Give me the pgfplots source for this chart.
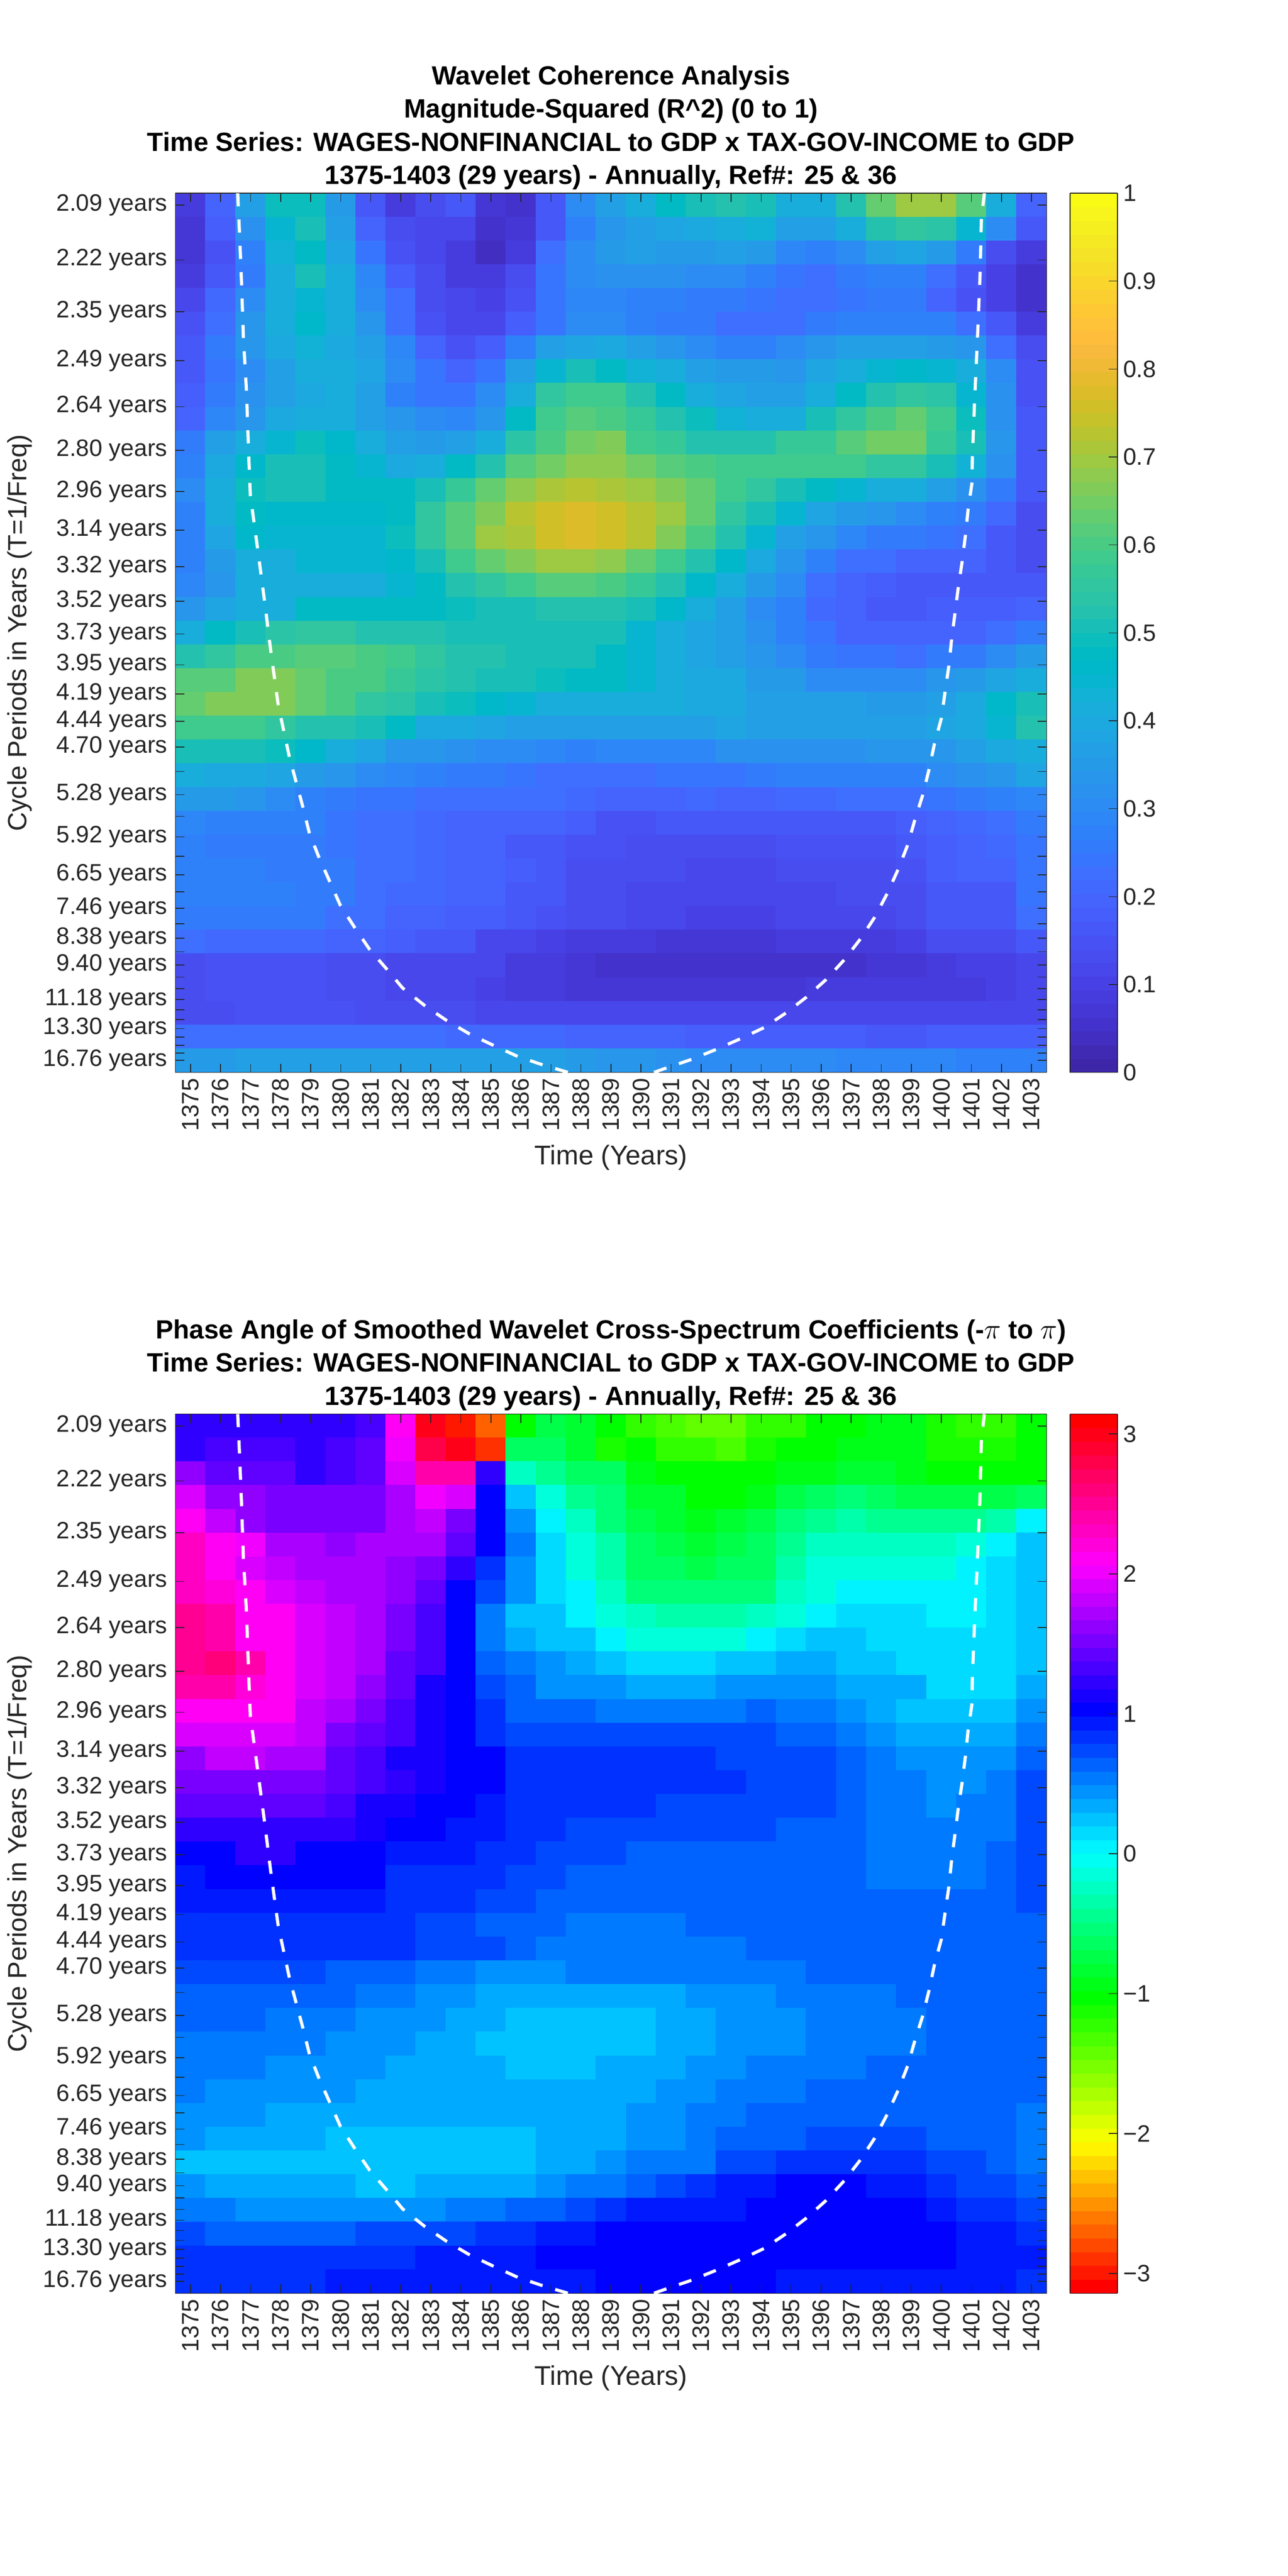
\documentclass[border=0pt]{standalone}
\usepackage{fontspec}
\setmainfont{Liberation Sans}
\usepackage{pgfplots}
\pgfplotsset{compat=1.18}
\definecolor{axgray}{rgb}{0.15,0.15,0.15}

\pgfplotsset{
  colormap={parula}{
    rgb=(0.2422,0.1504,0.6603) rgb=(0.2504,0.1650,0.7076) rgb=(0.2578,0.1818,0.7511) rgb=(0.2647,0.1978,0.7952)
    rgb=(0.2706,0.2147,0.8364) rgb=(0.2751,0.2342,0.8710) rgb=(0.2783,0.2559,0.8991) rgb=(0.2803,0.2782,0.9221)
    rgb=(0.2813,0.3006,0.9414) rgb=(0.2810,0.3228,0.9579) rgb=(0.2795,0.3447,0.9717) rgb=(0.2760,0.3667,0.9829)
    rgb=(0.2699,0.3892,0.9906) rgb=(0.2602,0.4123,0.9952) rgb=(0.2440,0.4358,0.9988) rgb=(0.2206,0.4603,0.9973)
    rgb=(0.1963,0.4847,0.9892) rgb=(0.1834,0.5074,0.9798) rgb=(0.1786,0.5289,0.9682) rgb=(0.1764,0.5499,0.9520)
    rgb=(0.1687,0.5703,0.9359) rgb=(0.1540,0.5902,0.9218) rgb=(0.1460,0.6091,0.9079) rgb=(0.1380,0.6276,0.8973)
    rgb=(0.1248,0.6459,0.8883) rgb=(0.1113,0.6635,0.8763) rgb=(0.0952,0.6798,0.8598) rgb=(0.0689,0.6948,0.8394)
    rgb=(0.0297,0.7082,0.8163) rgb=(0.0036,0.7203,0.7917) rgb=(0.0067,0.7312,0.7660) rgb=(0.0433,0.7411,0.7394)
    rgb=(0.0964,0.7500,0.7120) rgb=(0.1408,0.7584,0.6842) rgb=(0.1717,0.7670,0.6554) rgb=(0.1938,0.7758,0.6251)
    rgb=(0.2161,0.7843,0.5923) rgb=(0.2470,0.7918,0.5567) rgb=(0.2906,0.7973,0.5188) rgb=(0.3406,0.8008,0.4789)
    rgb=(0.3909,0.8029,0.4354) rgb=(0.4456,0.8024,0.3909) rgb=(0.5044,0.7993,0.3480) rgb=(0.5616,0.7942,0.3045)
    rgb=(0.6174,0.7876,0.2612) rgb=(0.6720,0.7793,0.2227) rgb=(0.7242,0.7698,0.1910) rgb=(0.7738,0.7598,0.1646)
    rgb=(0.8203,0.7498,0.1535) rgb=(0.8634,0.7406,0.1596) rgb=(0.9035,0.7330,0.1774) rgb=(0.9393,0.7288,0.2100)
    rgb=(0.9728,0.7298,0.2394) rgb=(0.9956,0.7434,0.2371) rgb=(0.9970,0.7659,0.2199) rgb=(0.9952,0.7861,0.2028)
    rgb=(0.9892,0.8135,0.1885) rgb=(0.9786,0.8386,0.1766) rgb=(0.9676,0.8639,0.1643) rgb=(0.9610,0.8890,0.1537)
    rgb=(0.9597,0.9135,0.1423) rgb=(0.9628,0.9373,0.1265) rgb=(0.9691,0.9606,0.1064) rgb=(0.9769,0.9839,0.0805)
  },
  colormap={hsvbase}{rgb255=(255,0,0) rgb255=(255,255,0) rgb255=(0,255,0) rgb255=(0,255,255) rgb255=(0,0,255) rgb255=(255,0,255) rgb255=(255,0,0)},
  colormap={phase}{samples of colormap=(64 of hsvbase)},
  box/.style={
    scale only axis, width=528.5pt, height=533.5pt,
    anchor=south west,
    xmin=1374.5, xmax=1403.5,
    ymin=0.05375, ymax=0.48316,
  },
  wavelet/.style={
    box,
    axis line style={axgray, line width=0.5pt},
    tick align=inside, tick pos=both,
    major tick length=5.3pt,
    every tick/.style={axgray, line width=0.5pt},
    xtick={1375,...,1403},
    xticklabel style={rotate=90, anchor=east, font=\fontsize{14.4}{16}\selectfont, text=axgray, /pgf/number format/1000 sep={}, /pgf/number format/assume math mode=true},
    ytick={.47733,.45054,.42526,.40139,.37886,.35760,.33753,.31859,.30071,.28383,.26790,.25287,.23866,.22527,.21263,.20069,.18943,.17880,.16876,.15930,.15036,.14192,.13395,.12643,.11933,.11264,.10632,.10035,.09472,.08940,.08438,.07965,.07518,.07096,.06698,.06322,.05967},
    yticklabels={{2.09 years},{2.22 years},{2.35 years},{2.49 years},{2.64 years},{2.80 years},{2.96 years},{3.14 years},{3.32 years},{3.52 years},{3.73 years},{3.95 years},{4.19 years},{4.44 years},{4.70 years},{},{5.28 years},{},{5.92 years},{},{6.65 years},{},{7.46 years},{},{8.38 years},{},{9.40 years},{},{},{11.18 years},{},{},{13.30 years},{},{},{},{16.76 years}},
    yticklabel style={font=\fontsize{14.4}{16}\selectfont, text=axgray, xshift=-1.5pt},
    xlabel={Time (Years)}, ylabel={Cycle Periods in Years (T=1/Freq)},
    xlabel style={font=\fontsize{16.4}{18}\selectfont, text=axgray, yshift=-1.5pt},
    ylabel style={font=\fontsize{16}{18}\selectfont, text=axgray},
    title style={font=\bfseries\fontsize{16}{20.2}\selectfont, align=center, yshift=-7.5pt},
    axis on top,
    colormap access=piecewise constant,
    colorbar,
  },
  wbar/.style={
    at={(1.027,1)}, anchor=north west, width=28.75pt,
    axis line style={axgray, line width=0.5pt},
    tick align=inside, ytick pos=right,
    major tick length=5.3pt,
    every tick/.style={axgray, line width=0.5pt},
    yticklabel style={font=\fontsize{14.4}{16}\selectfont, text=axgray},
  },
  coi/.style={white, line width=1.9pt, dash pattern=on 8pt off 8pt},
}

\begin{document}
\begin{tikzpicture}
\path[use as bounding box] (0,0) rectangle (781.25pt,1563pt);

\begin{axis}[wavelet, at={(106.5pt,912.25pt)},
    title={Wavelet Coherence Analysis\\Magnitude-Squared (R\^{}2) (0 to 1)\\Time Series: WAGES-NONFINANCIAL to GDP x TAX-GOV-INCOME to GDP\\1375-1403 (29 years) - Annually, Ref\#: 25 \& 36},
    colormap name=parula,
    point meta min=0, point meta max=100,
    colorbar style={wbar, ytick={0,10,...,100}, yticklabels={0,0.1,0.2,0.3,0.4,0.5,0.6,0.7,0.8,0.9,1}},
]
% coherence in hundredths, row by row from 2.09 years down, 1375..1403 in each row
\addplot[matrix plot*, mesh/cols=29, point meta=explicit] table[row sep=\\, header=false, x index=0, y index=0, meta index=0, x expr={1375+floor(mod(\coordindex+0.5,29))}, y expr={0.48316-(floor((\coordindex+0.5)/29)+0.5)*0.011606}] {
9\\20\\36\\49\\49\\35\\17\\8\\13\\16\\7\\6\\16\\30\\37\\42\\48\\50\\52\\50\\42\\42\\52\\64\\69\\69\\62\\42\\20\\
7\\18\\32\\45\\50\\36\\20\\13\\11\\11\\5\\7\\17\\27\\33\\37\\38\\40\\42\\43\\37\\37\\41\\52\\55\\54\\44\\30\\16\\
7\\15\\28\\43\\48\\38\\24\\15\\11\\8\\4\\9\\22\\31\\35\\36\\35\\35\\36\\35\\29\\27\\31\\37\\38\\35\\25\\14\\9\\
8\\16\\26\\42\\50\\41\\29\\18\\13\\9\\8\\13\\24\\30\\32\\32\\32\\31\\30\\28\\24\\22\\25\\28\\27\\23\\17\\10\\5\\
12\\21\\31\\41\\45\\41\\31\\22\\14\\11\\10\\15\\24\\29\\29\\28\\27\\26\\25\\24\\23\\22\\24\\26\\26\\20\\15\\10\\6\\
15\\22\\33\\42\\46\\41\\33\\22\\15\\12\\12\\18\\24\\30\\31\\28\\26\\25\\23\\22\\22\\26\\27\\28\\28\\27\\22\\16\\8\\
17\\25\\34\\40\\43\\40\\36\\29\\19\\15\\18\\28\\36\\39\\40\\36\\34\\30\\28\\27\\31\\34\\36\\37\\37\\35\\33\\22\\13\\
17\\24\\31\\36\\42\\42\\38\\31\\24\\20\\24\\37\\45\\51\\47\\43\\42\\36\\35\\35\\34\\38\\41\\44\\46\\45\\41\\30\\15\\
18\\26\\32\\37\\40\\41\\36\\28\\24\\24\\30\\42\\55\\58\\58\\53\\48\\42\\39\\37\\37\\41\\48\\53\\55\\54\\44\\32\\15\\
20\\29\\34\\40\\41\\41\\37\\33\\30\\29\\34\\48\\58\\62\\60\\57\\53\\49\\43\\41\\42\\50\\55\\60\\64\\58\\49\\32\\16\\
26\\36\\41\\45\\49\\46\\41\\37\\35\\37\\41\\54\\60\\65\\66\\59\\57\\53\\52\\52\\57\\57\\62\\65\\65\\57\\51\\33\\17\\
28\\40\\46\\51\\51\\48\\44\\40\\42\\47\\53\\61\\65\\68\\68\\65\\61\\60\\58\\58\\58\\58\\58\\55\\55\\51\\43\\32\\17\\
30\\42\\49\\51\\51\\47\\47\\47\\51\\57\\64\\68\\71\\72\\71\\69\\67\\63\\58\\55\\51\\48\\44\\42\\41\\37\\32\\25\\16\\
28\\42\\47\\46\\46\\46\\46\\48\\55\\61\\67\\72\\75\\78\\75\\72\\69\\64\\56\\51\\45\\38\\35\\33\\30\\28\\25\\21\\14\\
28\\39\\46\\45\\45\\45\\45\\49\\55\\62\\69\\71\\75\\78\\75\\72\\67\\60\\52\\45\\36\\33\\29\\26\\26\\24\\23\\17\\13\\
28\\35\\42\\42\\44\\44\\44\\46\\51\\58\\64\\66\\69\\70\\68\\64\\59\\52\\46\\40\\33\\28\\22\\22\\20\\20\\19\\17\\14\\
29\\33\\41\\42\\42\\42\\42\\44\\48\\52\\55\\58\\61\\61\\60\\57\\52\\46\\41\\35\\30\\23\\20\\18\\16\\16\\16\\16\\17\\
34\\38\\41\\42\\47\\47\\47\\47\\47\\49\\50\\51\\52\\52\\52\\51\\46\\41\\37\\31\\27\\21\\19\\17\\16\\18\\18\\18\\20\\
42\\47\\51\\54\\55\\55\\53\\53\\53\\51\\51\\51\\51\\50\\50\\45\\42\\38\\36\\32\\27\\24\\20\\19\\19\\19\\20\\22\\26\\
53\\56\\60\\60\\62\\62\\60\\58\\55\\53\\53\\51\\51\\50\\47\\45\\42\\38\\37\\33\\30\\26\\24\\24\\22\\25\\26\\30\\35\\
62\\62\\66\\66\\63\\60\\60\\57\\54\\52\\50\\50\\49\\48\\47\\45\\42\\40\\40\\35\\35\\31\\31\\30\\31\\33\\35\\38\\42\\
63\\66\\66\\66\\63\\60\\56\\54\\51\\49\\46\\44\\41\\41\\41\\42\\41\\40\\40\\37\\36\\36\\36\\35\\35\\36\\40\\46\\51\\
58\\58\\58\\56\\53\\53\\50\\47\\40\\40\\38\\36\\36\\36\\36\\36\\36\\36\\38\\36\\36\\36\\36\\37\\37\\38\\40\\45\\52\\
50\\50\\50\\49\\46\\41\\39\\34\\34\\32\\30\\30\\29\\28\\29\\29\\29\\29\\32\\32\\32\\32\\32\\33\\33\\34\\37\\40\\41\\
41\\40\\40\\39\\35\\33\\31\\29\\27\\26\\26\\24\\23\\22\\22\\22\\24\\24\\24\\26\\27\\28\\28\\28\\28\\31\\32\\34\\38\\
35\\35\\33\\30\\28\\26\\24\\24\\23\\22\\22\\22\\22\\21\\20\\20\\20\\21\\20\\20\\21\\21\\22\\22\\22\\24\\26\\28\\29\\
29\\28\\28\\27\\27\\24\\23\\22\\21\\20\\20\\19\\19\\18\\15\\15\\16\\16\\16\\16\\17\\17\\17\\17\\18\\20\\21\\23\\25\\
27\\26\\26\\26\\26\\24\\23\\22\\21\\20\\20\\17\\17\\15\\15\\14\\13\\13\\13\\13\\15\\15\\15\\15\\17\\18\\20\\21\\24\\
27\\27\\27\\26\\26\\25\\23\\22\\21\\20\\19\\18\\17\\14\\13\\13\\13\\12\\12\\12\\13\\13\\14\\14\\15\\18\\19\\20\\24\\
27\\27\\27\\27\\26\\25\\23\\21\\21\\19\\19\\17\\16\\14\\13\\12\\12\\11\\11\\11\\12\\12\\13\\13\\14\\16\\17\\17\\24\\
26\\26\\26\\25\\25\\23\\22\\20\\19\\18\\18\\16\\15\\13\\13\\12\\12\\10\\10\\10\\12\\12\\12\\12\\13\\16\\16\\17\\22\\
22\\21\\21\\21\\21\\20\\20\\18\\17\\16\\11\\11\\10\\9\\9\\9\\7\\7\\7\\7\\9\\9\\9\\9\\10\\13\\13\\14\\16\\
14\\15\\15\\15\\15\\14\\14\\12\\12\\11\\11\\9\\9\\7\\6\\5\\5\\5\\5\\5\\6\\6\\6\\7\\7\\9\\10\\10\\11\\
13\\15\\15\\15\\15\\14\\14\\12\\12\\11\\10\\9\\8\\7\\7\\7\\7\\7\\7\\7\\7\\8\\8\\8\\8\\9\\9\\10\\11\\
14\\14\\15\\15\\15\\15\\14\\14\\13\\13\\12\\12\\11\\11\\11\\11\\11\\11\\11\\11\\11\\11\\11\\11\\11\\11\\11\\11\\12\\
22\\22\\22\\22\\22\\23\\23\\22\\22\\21\\21\\21\\21\\20\\19\\19\\19\\18\\18\\18\\18\\18\\18\\17\\17\\18\\18\\18\\18\\
35\\35\\36\\36\\36\\36\\36\\37\\37\\36\\36\\36\\36\\35\\33\\33\\32\\31\\31\\31\\30\\30\\29\\29\\29\\29\\28\\28\\28\\
};
\end{axis}

% cone of influence, year against frequency, in its own axis over the cells
\begin{axis}[box, hide axis, at={(106.5pt,912.25pt)}]
\addplot[coi] coordinates {(1376.57,.4832)(1376.63,.4640)(1376.70,.4385)(1376.76,.4127)(1376.86,.3872)(1376.94,.3542)(1376.99,.3357)(1377.23,.3099)(1377.46,.2844)(1377.68,.2586)(1377.92,.2331)(1378.29,.2079)(1378.74,.1834)(1378.96,.1705)(1379.27,.1590)(1379.99,.1353)(1380.48,.1242)(1380.96,.1139)(1381.54,.1041)(1382.06,.0950)(1382.80,.0864)(1383.53,.0791)(1384.32,.0723)(1385.10,.0669)(1385.89,.0616)(1386.74,.0574)(1387.57,.0538)};
\addplot[coi] coordinates {(1390.43,.0538)(1390.85,.0560)(1391.69,.0602)(1392.48,.0649)(1393.32,.0703)(1394.10,.0757)(1394.84,.0830)(1395.51,.0906)(1396.15,.0990)(1396.76,.1087)(1397.31,.1191)(1397.78,.1296)(1398.20,.1413)(1398.56,.1530)(1398.88,.1650)(1399.11,.1769)(1399.38,.1894)(1399.59,.2019)(1399.77,.2144)(1400.00,.2268)(1400.12,.2395)(1400.25,.2526)(1400.34,.2655)(1400.45,.2779)(1400.56,.2906)(1400.69,.3033)(1400.80,.3162)(1400.89,.3290)(1401.02,.3419)(1401.03,.3542)(1401.10,.3803)(1401.22,.4192)(1401.29,.4449)(1401.33,.4705)(1401.43,.4832)};
\end{axis}

\begin{axis}[wavelet, at={(106.5pt,171.5pt)},
    title={Phase Angle of Smoothed Wavelet Cross-Spectrum Coefficients (-$\pi$ to $\pi$)\\Time Series: WAGES-NONFINANCIAL to GDP x TAX-GOV-INCOME to GDP\\1375-1403 (29 years) - Annually, Ref\#: 25 \& 36},
    colormap name=phase,
    point meta min=-314.159, point meta max=314.159,
    colorbar style={wbar, ytick={-300,-200,...,300}, yticklabels={−3,−2,−1,0,1,2,3}},
]
% phase in hundredths of a radian
\addplot[matrix plot*, mesh/cols=29, point meta=explicit] table[row sep=\\, header=false, x index=0, y index=0, meta index=0, x expr={1375+floor(mod(\coordindex+0.5,29))}, y expr={0.48316-(floor((\coordindex+0.5)/29)+0.5)*0.011606}] {
125\\125\\125\\125\\125\\125\\130\\215\\300\\-300\\-270\\-105\\-75\\-85\\-105\\-120\\-130\\-145\\-145\\-125\\-120\\-105\\-100\\-95\\-95\\-110\\-125\\-125\\-100\\
125\\130\\135\\135\\125\\132\\140\\200\\275\\300\\-290\\-60\\-60\\-85\\-110\\-105\\-120\\-120\\-130\\-115\\-105\\-100\\-90\\-90\\-98\\-110\\-110\\-110\\-100\\
165\\145\\140\\140\\125\\135\\145\\190\\240\\240\\120\\-20\\-45\\-65\\-60\\-95\\-100\\-105\\-105\\-105\\-95\\-90\\-85\\-85\\-95\\-100\\-105\\-105\\-105\\
190\\165\\160\\150\\150\\150\\150\\175\\200\\190\\105\\20\\-10\\-45\\-55\\-80\\-85\\-105\\-105\\-95\\-70\\-65\\-50\\-60\\-70\\-75\\-75\\-70\\-60\\
210\\185\\165\\155\\155\\155\\155\\175\\180\\150\\105\\45\\0\\-25\\-50\\-70\\-80\\-95\\-80\\-70\\-55\\-45\\-35\\-45\\-45\\-45\\-45\\-35\\0\\
235\\210\\200\\170\\170\\160\\175\\175\\175\\140\\105\\55\\10\\-10\\-35\\-65\\-70\\-85\\-70\\-65\\-40\\-20\\-20\\-20\\-20\\-20\\-15\\0\\28\\
235\\210\\195\\180\\170\\170\\170\\160\\155\\125\\85\\42\\10\\-10\\-30\\-60\\-65\\-75\\-65\\-60\\-35\\-10\\-10\\-10\\-10\\-10\\0\\10\\28\\
235\\220\\210\\190\\180\\170\\170\\160\\140\\105\\70\\42\\10\\0\\-20\\-50\\-55\\-55\\-55\\-50\\-20\\-10\\0\\0\\0\\0\\0\\10\\28\\
250\\240\\215\\210\\195\\185\\170\\150\\130\\105\\55\\28\\20\\0\\-10\\-25\\-35\\-35\\-35\\-20\\-10\\0\\10\\10\\10\\0\\0\\10\\28\\
250\\240\\215\\210\\195\\185\\170\\150\\130\\105\\55\\38\\20\\20\\0\\-10\\-12\\-12\\-12\\0\\10\\20\\20\\10\\10\\10\\10\\10\\20\\
255\\260\\245\\215\\195\\185\\175\\145\\130\\105\\65\\50\\40\\35\\20\\10\\10\\10\\20\\20\\30\\30\\20\\20\\10\\10\\10\\10\\20\\
245\\245\\220\\210\\195\\185\\165\\145\\115\\105\\75\\60\\48\\45\\42\\30\\30\\30\\40\\40\\40\\40\\30\\30\\30\\10\\10\\10\\30\\
215\\215\\210\\210\\180\\170\\155\\135\\115\\105\\85\\65\\65\\60\\50\\50\\50\\50\\50\\60\\50\\50\\40\\30\\20\\20\\20\\20\\40\\
190\\190\\190\\190\\180\\155\\145\\130\\115\\100\\85\\75\\75\\72\\72\\72\\72\\72\\72\\72\\60\\60\\50\\40\\30\\30\\30\\30\\50\\
160\\185\\185\\175\\170\\145\\135\\115\\115\\105\\100\\85\\80\\85\\85\\85\\85\\85\\75\\72\\72\\72\\60\\50\\42\\42\\42\\42\\65\\
155\\155\\155\\155\\150\\140\\130\\120\\115\\105\\100\\85\\80\\85\\85\\85\\85\\85\\85\\72\\72\\72\\60\\50\\50\\42\\42\\50\\70\\
140\\140\\140\\140\\140\\130\\115\\110\\100\\100\\90\\85\\80\\85\\85\\85\\72\\72\\72\\72\\72\\72\\62\\50\\50\\45\\50\\50\\70\\
125\\125\\125\\125\\125\\125\\115\\105\\100\\90\\90\\85\\85\\72\\72\\72\\72\\72\\72\\72\\62\\62\\62\\50\\50\\50\\50\\50\\72\\
105\\105\\120\\120\\105\\105\\105\\95\\90\\90\\80\\80\\72\\72\\72\\62\\62\\62\\62\\62\\62\\62\\62\\50\\50\\50\\50\\62\\72\\
95\\100\\100\\100\\100\\100\\100\\88\\88\\80\\80\\72\\72\\62\\62\\62\\62\\62\\62\\62\\62\\62\\62\\50\\50\\50\\50\\62\\72\\
92\\92\\92\\92\\92\\92\\92\\80\\80\\80\\72\\72\\62\\62\\62\\62\\62\\62\\62\\62\\62\\62\\62\\62\\62\\62\\62\\62\\72\\
85\\85\\85\\85\\85\\85\\85\\85\\70\\70\\62\\62\\62\\50\\50\\50\\50\\62\\62\\62\\62\\62\\62\\62\\62\\62\\62\\62\\62\\
80\\80\\80\\80\\80\\80\\80\\80\\70\\70\\70\\62\\52\\52\\52\\52\\52\\52\\52\\62\\62\\62\\62\\62\\62\\62\\62\\62\\62\\
75\\75\\75\\75\\75\\62\\62\\62\\52\\52\\42\\42\\42\\50\\50\\50\\50\\50\\55\\55\\55\\62\\62\\62\\62\\62\\62\\62\\62\\
68\\68\\68\\68\\68\\68\\55\\55\\42\\42\\32\\32\\32\\35\\35\\35\\35\\42\\42\\42\\52\\52\\52\\52\\62\\62\\62\\62\\62\\
68\\68\\68\\55\\55\\55\\42\\42\\42\\32\\32\\20\\20\\20\\20\\20\\30\\30\\42\\42\\42\\52\\52\\52\\52\\62\\62\\62\\62\\
55\\55\\55\\55\\55\\45\\45\\45\\30\\30\\20\\20\\20\\20\\20\\20\\30\\30\\42\\42\\42\\52\\52\\52\\52\\62\\62\\62\\62\\
52\\52\\52\\42\\42\\42\\42\\30\\30\\30\\30\\20\\20\\20\\30\\30\\30\\42\\42\\52\\52\\52\\52\\62\\62\\62\\62\\62\\62\\
52\\42\\42\\42\\42\\42\\30\\30\\30\\30\\30\\30\\30\\30\\30\\30\\42\\42\\52\\52\\52\\62\\62\\62\\62\\62\\62\\62\\62\\
42\\42\\42\\30\\30\\30\\30\\30\\30\\30\\30\\30\\30\\30\\30\\42\\42\\52\\52\\62\\62\\62\\62\\62\\62\\62\\62\\62\\52\\
42\\30\\30\\30\\30\\20\\20\\20\\20\\20\\20\\20\\30\\30\\30\\42\\42\\52\\62\\62\\62\\72\\72\\72\\72\\62\\62\\62\\52\\
28\\28\\28\\28\\20\\20\\20\\20\\20\\20\\20\\20\\30\\30\\42\\50\\50\\55\\70\\70\\80\\80\\80\\80\\80\\70\\70\\62\\52\\
42\\30\\30\\30\\30\\30\\20\\20\\30\\30\\30\\30\\42\\52\\52\\62\\72\\85\\92\\92\\100\\100\\100\\92\\92\\85\\75\\75\\62\\
52\\52\\42\\42\\42\\42\\42\\42\\42\\52\\52\\62\\62\\72\\85\\90\\90\\98\\98\\103\\103\\103\\100\\100\\100\\90\\85\\85\\72\\
75\\62\\62\\62\\62\\62\\72\\72\\72\\72\\85\\85\\95\\95\\102\\100\\100\\105\\105\\105\\105\\105\\105\\100\\100\\100\\95\\95\\85\\
85\\85\\85\\85\\85\\85\\85\\85\\92\\92\\92\\92\\102\\102\\103\\102\\102\\105\\105\\105\\105\\102\\102\\102\\102\\102\\95\\95\\95\\
85\\85\\85\\85\\85\\92\\92\\92\\92\\92\\92\\92\\92\\92\\100\\100\\100\\100\\100\\100\\93\\93\\93\\93\\93\\93\\93\\93\\85\\
};
\end{axis}

\begin{axis}[box, hide axis, at={(106.5pt,171.5pt)}]
\addplot[coi] coordinates {(1376.57,.4832)(1376.63,.4640)(1376.70,.4385)(1376.76,.4127)(1376.86,.3872)(1376.94,.3542)(1376.99,.3357)(1377.23,.3099)(1377.46,.2844)(1377.68,.2586)(1377.92,.2331)(1378.29,.2079)(1378.74,.1834)(1378.96,.1705)(1379.27,.1590)(1379.99,.1353)(1380.48,.1242)(1380.96,.1139)(1381.54,.1041)(1382.06,.0950)(1382.80,.0864)(1383.53,.0791)(1384.32,.0723)(1385.10,.0669)(1385.89,.0616)(1386.74,.0574)(1387.57,.0538)};
\addplot[coi] coordinates {(1390.43,.0538)(1390.85,.0560)(1391.69,.0602)(1392.48,.0649)(1393.32,.0703)(1394.10,.0757)(1394.84,.0830)(1395.51,.0906)(1396.15,.0990)(1396.76,.1087)(1397.31,.1191)(1397.78,.1296)(1398.20,.1413)(1398.56,.1530)(1398.88,.1650)(1399.11,.1769)(1399.38,.1894)(1399.59,.2019)(1399.77,.2144)(1400.00,.2268)(1400.12,.2395)(1400.25,.2526)(1400.34,.2655)(1400.45,.2779)(1400.56,.2906)(1400.69,.3033)(1400.80,.3162)(1400.89,.3290)(1401.02,.3419)(1401.03,.3542)(1401.10,.3803)(1401.22,.4192)(1401.29,.4449)(1401.33,.4705)(1401.43,.4832)};
\end{axis}
\end{tikzpicture}
\end{document}
